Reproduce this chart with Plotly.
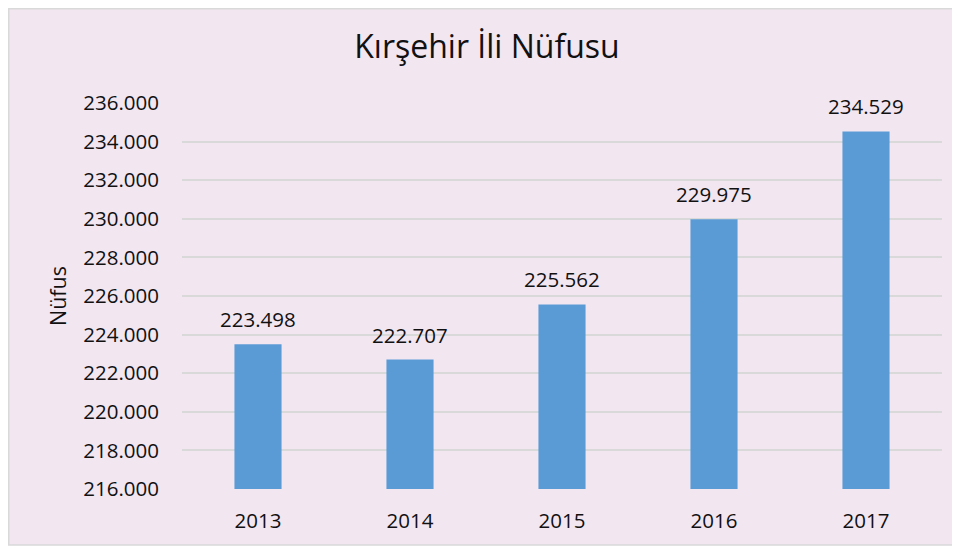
import plotly.graph_objects as go

years = ["2013", "2014", "2015", "2016", "2017"]
population = [223498, 222707, 225562, 229975, 234529]
y_ticks = [216000, 218000, 220000, 222000, 224000, 226000, 228000, 230000, 232000, 234000, 236000]

# page is rendered with an 8px body margin; figure coords = page coords - 8
OFF = 8
W, H = 960 - OFF, 548 - OFF
# plot area in page pixels: x 182..942, y 103..489
L, R, T, B = 182 - OFF, W - (942 - OFF), 103 - OFF, H - (489 - OFF)
pw, ph = W - L - R, H - T - B

def px(xpage):
    return (xpage - OFF - L) / pw

def py(ypage):
    return (H - B - (ypage - OFF)) / ph

FONT = "Open Sans, Liberation Sans, sans-serif"

fig = go.Figure()
fig.add_trace(go.Bar(
    x=years, y=population,
    marker=dict(color="#5B9BD5", line=dict(width=0)),
    width=0.31,
    hoverinfo="x+y",
))

for i, val in enumerate(population):
    fig.add_annotation(x=i, y=val, text=f"{val:,}".replace(",", "."),
                       showarrow=False, yanchor="middle", yshift=25,
                       font=dict(size=20.5, color="#111111", family=FONT))

fig.add_shape(type="rect", xref="paper", yref="paper",
              x0=px(OFF + 0.75), x1=px(957), y0=py(545), y1=py(OFF + 0.75),
              fillcolor="#F2E6F1", line=dict(color="#D9D9D9", width=1.5), layer="below")

fig.add_annotation(xref="paper", yref="paper", x=px(57), y=py(296), text="Nüfus",
                   textangle=-90, showarrow=False, xanchor="center", yanchor="middle",
                   font=dict(size=21.5, color="#111111", family=FONT))

fig.update_layout(
    width=W, height=H,
    margin=dict(l=L, r=R, t=T, b=B, autoexpand=False),
    paper_bgcolor="white",
    plot_bgcolor="rgba(0,0,0,0)",
    separators=",.",
    showlegend=False,
    font=dict(family=FONT, color="#111111", size=20.5),
    title=dict(text="Kırşehir İli Nüfusu", x=px(487), xanchor="center", xref="paper",
               y=1 - (47 - OFF) / H, yanchor="middle",
               font=dict(size=32, color="#111111")),
)
fig.update_xaxes(type="category", range=[-0.5, len(years) - 0.5], showgrid=False,
                 showline=False, ticks="", automargin=False,
                 ticklabelstandoff=17, tickfont=dict(size=20.5))
fig.update_yaxes(range=[216000, 236000], tickvals=y_ticks, tickformat=",.0f",
                 showgrid=True, gridcolor="#D9D9D9", gridwidth=1.5, zeroline=False,
                 automargin=False, ticks="", ticklabelstandoff=22, tickfont=dict(size=20.5))

fig.write_html("out.html")
